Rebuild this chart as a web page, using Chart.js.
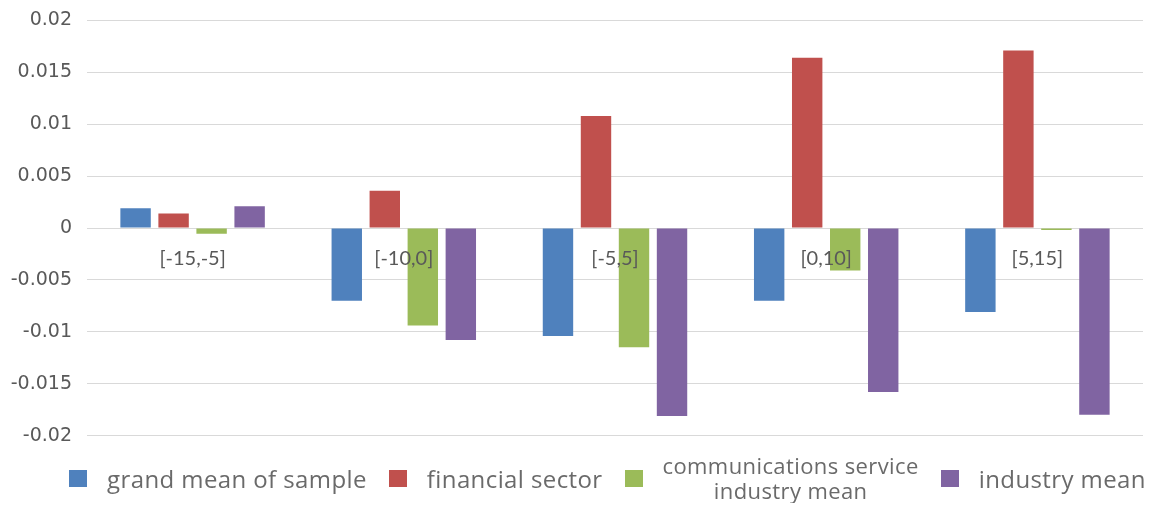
<!DOCTYPE html>
<html>
<head>
<meta charset="utf-8">
<script src="https://cdn.jsdelivr.net/npm/chart.js@4/dist/chart.umd.min.js"></script>
<style>
  body { margin: 0; background: #fff; overflow: hidden; }
  #wrap { width: 1153px; height: 468px; position: relative; margin-top: -6px; }
  #legend {
    display: flex; justify-content: center; align-items: center;
    width: 1153px; height: 50px; margin-top: -9px;
    position: relative; left: 31px;
    font-family: "Open Sans", sans-serif; font-size: 24px;
    letter-spacing: 0.4px; color: #6a6a6a;
  }
  .item { display: flex; align-items: center; margin: 0 11px; }
  .box { width: 18px; height: 17px; margin-right: 20px; flex: none; }
  .item span { text-align: center; line-height: 25px; }
  .item.two span { font-size: 22px; }
</style>
</head>
<body>
<div id="wrap"><canvas id="chart"></canvas></div>
<div id="legend"></div>
<script>
const categories = ['[-15,-5]', '[-10,0]', '[-5,5]', '[0,10]', '[5,15]'];
const seriesNames = ['grand mean of sample', 'financial sector', 'communications service\nindustry mean', 'industry mean'];
const grandMean = [0.0019, -0.0070, -0.0104, -0.0070, -0.0081];
const financialSector = [0.0014, 0.0036, 0.0108, 0.0164, 0.0171];
const commsIndustry = [-0.00055, -0.0094, -0.0115, -0.0041, -0.0002];
const industryMean = [0.0021, -0.0108, -0.0181, -0.0158, -0.0180];
const yTicks = [0.02, 0.015, 0.01, 0.005, 0, -0.005, -0.01, -0.015, -0.02];
const colors = ['#4f81bd', '#c0504d', '#9bbb59', '#8064a2'];

const seriesValues = [grandMean, financialSector, commsIndustry, industryMean];

const datasets = seriesValues.map((vals, i) => ({
  label: seriesNames[i],
  data: vals,
  backgroundColor: colors[i],
  borderWidth: 0,
  categoryPercentage: 0.72,
  barPercentage: 0.8,
}));

new Chart('chart', {
  type: 'bar',
  data: { labels: categories, datasets: datasets },
  options: {
    responsive: true,
    maintainAspectRatio: false,
    animation: false,
    layout: { padding: { top: 13, right: 10, bottom: 12, left: 0 } },
    plugins: { legend: { display: false }, tooltip: { enabled: false } },
    scales: {
      x: {
        position: { y: 0 },
        grid: { display: false, drawTicks: false },
        border: { display: false },
        ticks: { z: 1, padding: 19, color: '#595959', font: { family: 'Lato', size: 20 } },
      },
      y: {
        min: -0.02,
        max: 0.02,
        afterBuildTicks: (scale) => { scale.ticks = yTicks.map((v) => ({ value: v })); },
        afterFit: (scale) => { scale.width = 87; },
        grid: { color: '#d9d9d9', drawTicks: false },
        border: { display: false },
        ticks: {
          padding: 15,
          color: '#595959',
          font: { family: 'DejaVu Sans', size: 19 },
          callback: (v) => String(v),
        },
      },
    },
  },
});

// legend below the chart, built from the same series
const legend = document.getElementById('legend');
seriesNames.forEach((name, i) => {
  const item = document.createElement('div');
  item.className = name.includes('\n') ? 'item two' : 'item';
  const box = document.createElement('div');
  box.className = 'box';
  box.style.background = colors[i];
  const label = document.createElement('span');
  label.innerHTML = name.replace('\n', '<br>');
  item.appendChild(box);
  item.appendChild(label);
  legend.appendChild(item);
});
</script>
</body>
</html>
